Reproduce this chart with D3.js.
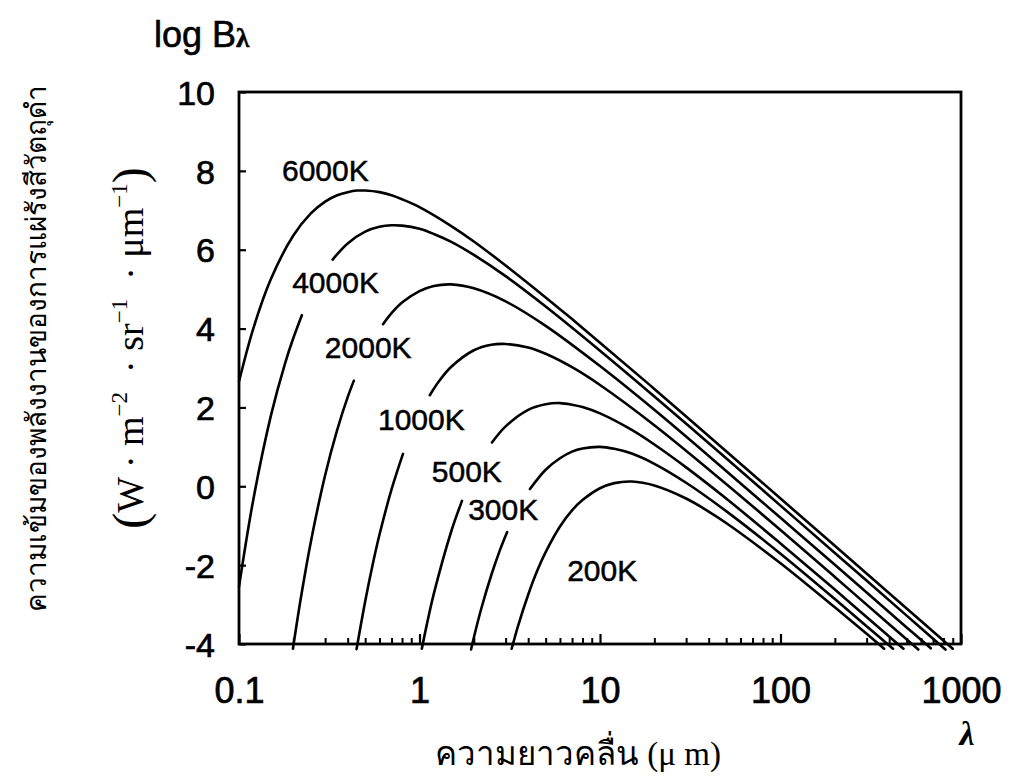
<!DOCTYPE html>
<html>
<head>
<meta charset="utf-8">
<script src="https://cdn.jsdelivr.net/npm/d3@7"></script>
<style>
  html, body { margin: 0; padding: 0; background: #fff; }
  #chart { width: 1011px; height: 776px; }
</style>
</head>
<body>
<div id="chart"></div>
<script>
// values: log10 of spectral radiance vs wavelength (um)
const temperatures = ["6000K", "4000K", "2000K", "1000K", "500K", "300K", "200K"];

const lambda6000 = [0.1, 0.12, 0.15, 0.2, 0.25, 0.3, 0.35, 0.4, 0.45, 0.5, 0.6, 0.7, 0.8, 1, 1.5, 2, 3, 5, 7, 10, 20, 50, 100, 200, 500, 900];
const logB6000 = [2.66, 4.0, 5.25, 6.36, 6.92, 7.22, 7.38, 7.46, 7.5, 7.5, 7.46, 7.38, 7.28, 7.08, 6.6, 6.21, 5.6, 4.79, 4.24, 3.64, 2.47, 0.89, -0.31, -1.51, -3.1, -4.12];

const lambda4000a = [0.1, 0.12, 0.15, 0.18, 0.2, 0.223];
const logB4000a = [-2.55, -0.34, 1.78, 3.12, 3.76, 4.34];
const lambda4000b = [0.33, 0.4, 0.5, 0.6, 0.7, 0.8, 1, 1.2, 1.5, 2, 3, 5, 10, 20, 50, 100, 200, 500, 820];
const logB4000b = [5.75, 6.16, 6.46, 6.58, 6.62, 6.61, 6.53, 6.4, 6.2, 5.87, 5.33, 4.56, 3.44, 2.28, 0.71, -0.49, -1.69, -3.28, -4.14];

const lambda2000a = [0.199, 0.22, 0.25, 0.3, 0.35, 0.4, 0.433];
const logB2000a = [-4.12, -2.84, -1.41, 0.28, 1.43, 2.26, 2.68];
const lambda2000b = [0.628, 0.7, 0.8, 1, 1.2, 1.5, 2, 3, 5, 10, 20, 50, 100, 200, 500, 680];
const logB2000b = [4.11, 4.39, 4.66, 4.95, 5.08, 5.12, 5.02, 4.69, 4.07, 3.05, 1.94, 0.39, -0.8, -1.99, -3.58, -4.11];

const lambda1000a = [0.448, 0.5, 0.55, 0.6, 0.7, 0.81];
const logB1000a = [-4.13, -2.92, -1.99, -1.23, -0.08, 0.82];
const lambda1000b = [1.14, 1.3, 1.5, 2, 2.5, 3, 4, 5, 7, 10, 20, 50, 100, 200, 400, 580];
const logB1000b = [2.31, 2.7, 3.03, 3.45, 3.59, 3.61, 3.52, 3.36, 3.02, 2.57, 1.55, 0.06, -1.11, -2.3, -3.5, -4.14];

const lambda500a = [1.03, 1.1, 1.2, 1.5, 1.72];
const logB500a = [-4.12, -3.49, -2.73, -1.14, -0.37];
const lambda500b = [2.52, 3, 4, 5, 6, 7, 8, 10, 15, 20, 30, 50, 100, 200, 400, 480];
const logB500b = [1.11, 1.52, 1.94, 2.08, 2.11, 2.07, 2.01, 1.85, 1.43, 1.06, 0.48, -0.31, -1.45, -2.62, -3.81, -4.12];

const lambda300a = [1.93, 2.05, 2.2, 2.5, 2.8, 3.06];
const logB300a = [-4.14, -3.64, -3.1, -2.25, -1.6, -1.16];
const lambda300b = [4.09, 5, 6, 7, 8, 10, 12, 15, 20, 30, 50, 100, 200, 300, 420];
const logB300b = [-0.07, 0.42, 0.71, 0.88, 0.96, 1.0, 0.95, 0.83, 0.57, 0.09, -0.63, -1.71, -2.86, -3.55, -4.12];

const lambda200 = [3.24, 3.35, 3.5, 4, 4.5, 5, 6, 7, 8, 10, 12, 15, 20, 30, 40, 50, 100, 200, 300, 375];
const logB200 = [-4.12, -3.88, -3.57, -2.75, -2.13, -1.67, -1.02, -0.61, -0.35, -0.05, 0.08, 0.12, 0.02, -0.31, -0.64, -0.93, -1.95, -3.07, -3.74, -4.12];

// where each curve label sits (data units: lambda, logB of its baseline start)
const labelLambda = [0.173, 0.197, 0.299, 0.589, 1.17, 1.86, 6.58];
const labelLogB = [7.74, 4.9, 3.25, 1.42, 0.1, -0.86, -2.39];

const xMajorTicks = [0.1, 1, 10, 100, 1000];
const xTickLabels = ["0.1", "1", "10", "100", "1000"];
const yTicks = [-4, -2, 0, 2, 4, 6, 8, 10];

const zip = (xs, ys) => xs.map((v, i) => [v, ys[i]]);
const segments = [
  zip(lambda6000, logB6000),
  zip(lambda4000a, logB4000a), zip(lambda4000b, logB4000b),
  zip(lambda2000a, logB2000a), zip(lambda2000b, logB2000b),
  zip(lambda1000a, logB1000a), zip(lambda1000b, logB1000b),
  zip(lambda500a, logB500a), zip(lambda500b, logB500b),
  zip(lambda300a, logB300a), zip(lambda300b, logB300b),
  zip(lambda200, logB200)
];

const W = 1011, H = 776;
const margin = { top: 92, right: 50, bottom: 132, left: 239 };
const width = W - margin.left - margin.right;
const height = H - margin.top - margin.bottom;

const svg = d3.select("#chart").append("svg")
  .attr("width", W)
  .attr("height", H)
  .style("background", "#fff");

const g = svg.append("g")
  .attr("transform", `translate(${margin.left},${margin.top})`);

const x = d3.scaleLog().domain([0.1, 1000]).range([0, width]);
const y = d3.scaleLinear().domain([-4, 10]).range([height, 0]);

const sansFont = "'Liberation Sans', Arial, Helvetica, sans-serif";
const serifFont = "'Liberation Serif', 'Times New Roman', 'DejaVu Serif', serif";

// minor ticks on x (inside)
const minorTicks = [];
[0.1, 1, 10, 100].forEach(d => { for (let k = 2; k <= 9; k++) minorTicks.push(d * k); });

g.append("g")
  .attr("transform", `translate(0,${height})`)
  .call(d3.axisBottom(x).tickValues(minorTicks).tickSizeInner(-6).tickSizeOuter(0).tickFormat(""))
  .call(a => a.select(".domain").remove())
  .selectAll(".tick line").attr("stroke", "#000").attr("stroke-width", 2);

g.append("g")
  .attr("transform", `translate(0,${height})`)
  .call(d3.axisBottom(x).tickValues(xMajorTicks).tickSizeInner(-10).tickSizeOuter(0)
    .tickPadding(33).tickFormat((d, i) => xTickLabels[i]))
  .call(a => a.select(".domain").remove())
  .call(a => a.selectAll(".tick line").attr("stroke", "#000").attr("stroke-width", 2.2))
  .call(a => a.selectAll("text")
    .attr("fill", "#000")
    .style("font-family", sansFont)
    .style("font-size", "36px")
    .attr("stroke", "#000").attr("stroke-width", 0.7));

g.append("g")
  .call(d3.axisLeft(y).tickValues(yTicks).tickSizeInner(-7).tickSizeOuter(0)
    .tickPadding(24).tickFormat(d => String(d)))
  .call(a => a.select(".domain").remove())
  .call(a => a.selectAll(".tick line").attr("stroke", "#000").attr("stroke-width", 2.2))
  .call(a => a.selectAll("text")
    .attr("fill", "#000")
    .attr("dy", "0.36em")
    .style("font-family", sansFont)
    .style("font-size", "34px")
    .attr("stroke", "#000").attr("stroke-width", 0.7));

// frame
g.append("rect")
  .attr("x", x(0.1)).attr("y", y(10))
  .attr("width", x(1000) - x(0.1))
  .attr("height", y(-4) - y(10))
  .attr("fill", "none")
  .attr("stroke", "#000")
  .attr("stroke-width", 2.8);

// curves
const line = d3.line()
  .x(d => x(d[0]))
  .y(d => y(d[1]))
  .curve(d3.curveCatmullRom.alpha(0.5));

g.selectAll(".curve")
  .data(segments)
  .join("path")
  .attr("class", "curve")
  .attr("d", line)
  .attr("fill", "none")
  .attr("stroke", "#000")
  .attr("stroke-width", 2.6)
  .attr("stroke-linecap", "round");

// curve labels
g.selectAll(".tlabel")
  .data(temperatures)
  .join("text")
  .attr("class", "tlabel")
  .attr("x", (d, i) => x(labelLambda[i]))
  .attr("y", (d, i) => y(labelLogB[i]))
  .style("font-family", sansFont)
  .style("font-size", "30px")
  .attr("fill", "#000")
  .attr("stroke", "#000").attr("stroke-width", 0.5)
  .text(d => d);

// y title "log B lambda"
const yt = svg.append("text")
  .attr("x", 154).attr("y", 47)
  .style("font-family", sansFont)
  .style("font-size", "36px")
  .attr("fill", "#000")
  .attr("stroke", "#000").attr("stroke-width", 0.6);
yt.append("tspan").text("log B");
yt.append("tspan").style("font-size", "27px").style("font-family", serifFont)
  .style("font-weight", "bold").text("λ");

// lambda under the x axis end
svg.append("text")
  .attr("x", 967).attr("y", 745)
  .attr("text-anchor", "middle")
  .style("font-family", serifFont)
  .style("font-size", "34px")
  .style("font-style", "italic")
  .style("font-weight", "bold")
  .attr("fill", "#000")
  .text("λ");

// Thai x title
svg.append("text")
  .attr("x", 578).attr("y", 765)
  .attr("text-anchor", "middle")
  .style("font-family", serifFont)
  .style("font-size", "33px")
  .attr("fill", "#000")
  .text("ความยาวคลื่น (μ m)");

// Thai y title
svg.append("text")
  .attr("transform", "translate(46,348) rotate(-90)")
  .attr("text-anchor", "middle")
  .style("font-family", serifFont)
  .style("font-size", "28px")
  .attr("fill", "#000")
  .text("ความเข้มของพลังงานของการแผ่รังสีวัตถุดำ");

// units, rotated
const units = svg.append("text")
  .attr("transform", "translate(143,348) rotate(-90)")
  .attr("text-anchor", "middle")
  .style("font-family", serifFont)
  .style("font-size", "38px")
  .style("white-space", "pre")
  .attr("fill", "#000");
units.append("tspan").style("font-size", "48px").attr("dy", 3).text("(");
units.append("tspan").attr("dy", -3).text("W · m");
units.append("tspan").attr("dy", -16).style("font-size", "23px").text("−2");
units.append("tspan").attr("dy", 16).text("  · sr");
units.append("tspan").attr("dy", -16).style("font-size", "23px").text("−1");
units.append("tspan").attr("dy", 16).text("  · μm");
units.append("tspan").attr("dy", -16).style("font-size", "23px").text("−1");
units.append("tspan").attr("dy", 19).style("font-size", "48px").text(")");
</script>
</body>
</html>
